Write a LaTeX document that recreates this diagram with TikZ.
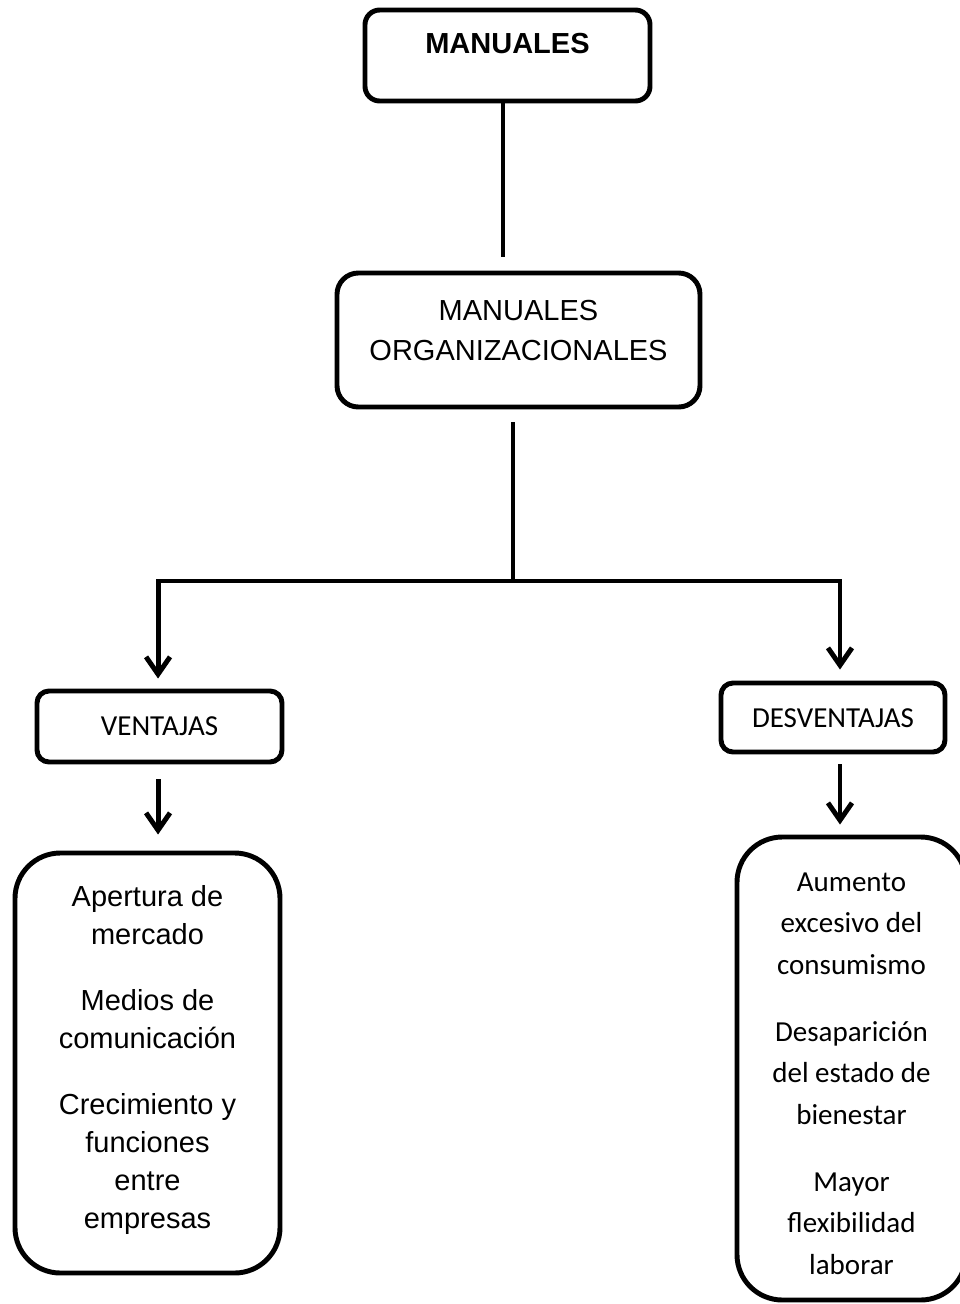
\documentclass[tikz,border=0pt]{standalone}
\usepackage{fontspec}
\setmainfont{Liberation Sans}
\newfontfamily\calibrif{Carlito}
\usetikzlibrary{arrows.meta}

\tikzset{
  box/.style = {draw, line width = 3.7pt, inner sep = 0pt, align = center,
                text height = 16pt},
  arial/.style = {font = \fontsize{21.75}{28.5}\selectfont},
  calibri/.style = {font = \calibrif\fontsize{21.75}{31}\selectfont},
  conn/.style = {line width = 3.7pt},
  arrow/.style = {conn, -{Straight Barb[length = 13pt, width = 18pt]}}
}

\begin{document}
\begin{tikzpicture}[x = .75pt, y = -.75pt]
      \useasboundingbox (0,0) rectangle (960,1304);
      \node [box, arial, rounded corners = 11pt, minimum width = 213.75pt,
             minimum height = 68.25pt, text depth = 19.75pt]
        (manuales) at (507.5,55.5) {\textbf{MANUALES}};
      \node [box, arial, rounded corners = 16pt, minimum width = 272.25pt,
             minimum height = 100.5pt, text height = 46pt, text depth = 16pt]
        (org) at (518.5,340) {MANUALES\\[1.5pt]ORGANIZACIONALES};
      \node [box, calibri, rounded corners = 9pt, minimum width = 183.75pt,
             minimum height = 53.25pt, text depth = 3.25pt]
        (vent) at (159.5,726.5) {VENTAJAS};
      \node [box, calibri, rounded corners = 9pt, minimum width = 168pt,
             minimum height = 51.75pt, text depth = 1.75pt]
        (desv) at (833,717.5) {DESVENTAJAS};
      \node [box, arial, rounded corners = 34pt, minimum width = 198.75pt,
             minimum height = 315pt, text height = 255.5pt, text depth = 8pt]
        (ventlist) at (147.5,1063) {Apertura de\\mercado\\[21pt]Medios de\\comunicación\\[21pt]Crecimiento y\\funciones\\entre\\empresas};
      \node [box, calibri, rounded corners = 34pt, minimum width = 171.75pt,
             minimum height = 347.25pt, text height = 316.25pt, text depth = 8pt]
        (desvlist) at (851.5,1068.5) {Aumento\\excesivo del\\consumismo\\[19.5pt]Desaparición\\del estado de\\bienestar\\[19.5pt]Mayor\\flexibilidad\\laborar};
      \coordinate (split) at (513,581);
      \draw [conn] ([xshift = -3.4pt]manuales.south) -- ++(0,154);
      \draw [conn] (split |- org.south) ++(0,13) -- (split);
      \draw [arrow] (split) -| ([xshift = -1.1pt, yshift = 7.5pt]vent.north);
      \draw [arrow] (split) -| ([xshift = 5.25pt, yshift = 8.25pt]desv.north);
      \draw [arrow] ([xshift = -1.1pt, yshift = -11pt]vent.south)
        -- ([xshift = -1.1pt, yshift = 12pt]vent.south |- ventlist.north);
      \draw [arrow] ([xshift = 5.25pt, yshift = -7.5pt]desv.south)
        -- ([xshift = 5.25pt, yshift = 7.5pt]desv.south |- desvlist.north);
    \end{tikzpicture}
\end{document}
